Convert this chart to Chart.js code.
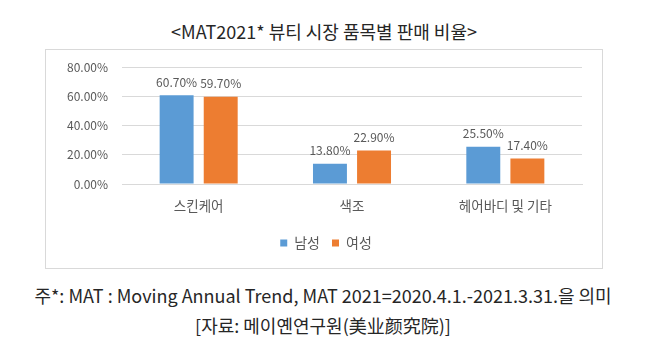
<!DOCTYPE html>
<html><head><meta charset="utf-8">
<script src="https://cdn.jsdelivr.net/npm/chart.js@4/dist/chart.umd.min.js"></script>
<style>
html,body{margin:0;padding:0;background:#fff;width:652px;height:360px;overflow:hidden;}
body{position:relative;font-family:"Noto Sans CJK KR","Noto Sans",sans-serif;color:#262626;}
.t{position:absolute;left:0;width:652px;text-align:center;white-space:nowrap;line-height:1.2;}
#title{top:21px;font-size:18px;left:-2px;}
#box{position:absolute;left:45px;top:49px;width:556px;height:218px;border:1px solid #d9d9d9;}
#cv{display:block;}
#n1{top:285px;font-size:18px;left:-3px;}
#n2{top:315px;font-size:18px;left:-3px;}
</style></head>
<body>
<div class="t" id="title">&lt;MAT2021* 뷰티 시장 품목별 판매 비율&gt;</div>
<div id="box"><canvas id="cv" width="556" height="218"></canvas></div>
<div class="t" id="n1">주*: MAT : Moving Annual Trend, MAT 2021=2020.4.1.-2021.3.31.을 의미</div>
<div class="t" id="n2">[자료: 메이옌연구원(美业颜究院)]</div>
<script>
const categories = ['스킨케어', '색조', '헤어바디 및 기타'];
const male = [60.7, 13.8, 25.5];
const female = [59.7, 22.9, 17.4];
const seriesNames = ['남성', '여성'];
const yTicks = [0, 20, 40, 60, 80];

const valueLabels = {
  id: 'valueLabels',
  afterDatasetsDraw(chart) {
    const ctx = chart.ctx;
    ctx.save();
    ctx.font = '12px "Noto Sans CJK KR", "Noto Sans", sans-serif';
    ctx.fillStyle = '#595959';
    ctx.textAlign = 'center';
    ctx.textBaseline = 'bottom';
    chart.data.datasets.forEach((ds, i) => {
      chart.getDatasetMeta(i).data.forEach((bar, j) => {
        ctx.fillText(ds.data[j].toFixed(2) + '%', bar.x, bar.y - 7);
      });
    });
    ctx.restore();
  }
};

new Chart(document.getElementById('cv'), {
  type: 'bar',
  data: {
    labels: categories,
    datasets: [
      { label: seriesNames[0], data: male, backgroundColor: '#5B9BD5' },
      { label: seriesNames[1], data: female, backgroundColor: '#ED7D31' }
    ]
  },
  options: {
    responsive: false,
    animation: false,
    devicePixelRatio: 1,
    layout: { padding: { left: 4, right: 0, top: 17, bottom: 8 } },
    datasets: { bar: { categoryPercentage: 0.575, barPercentage: 0.77 } },
    plugins: {
      legend: {
        position: 'bottom',
        labels: {
          boxWidth: 7, boxHeight: 7, padding: 12,
          color: '#595959',
          font: { family: '"Noto Sans CJK KR"', size: 14 }
        }
      },
      tooltip: { enabled: false }
    },
    scales: {
      y: {
        min: 0, max: 80,
        afterBuildTicks(scale) { scale.ticks = yTicks.map(v => ({ value: v })); },
        afterFit(scale) { scale.width = 72; },
        grid: { color: '#d9d9d9', drawTicks: true, tickLength: 11, tickColor: 'rgba(0,0,0,0)' },
        border: { display: false },
        ticks: {
          padding: 3,
          color: '#595959',
          font: { family: '"Noto Sans CJK KR"', size: 12 },
          callback: v => v.toFixed(2) + '%'
        }
      },
      yRight: {
        axis: 'y',
        position: 'right',
        afterFit(scale) { scale.width = 20; },
        grid: { display: false },
        border: { display: false },
        ticks: { display: false }
      },
      x: {
        grid: { display: false },
        border: { color: '#d9d9d9' },
        afterFit(scale) { scale.height = 40; },
        ticks: {
          padding: 6,
          color: '#595959',
          font: { family: '"Noto Sans CJK KR"', size: 13.5 }
        }
      }
    }
  },
  plugins: [valueLabels]
});
</script>
</body></html>
